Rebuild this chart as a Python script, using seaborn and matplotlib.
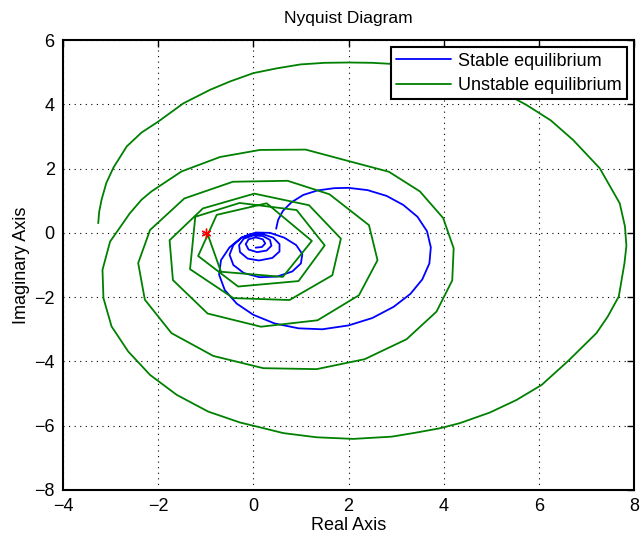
import numpy as np
import pandas as pd
import seaborn as sns
import matplotlib.pyplot as plt
from matplotlib.lines import Line2D

# Nyquist curve of the stable-equilibrium loop (real, imaginary)
stable_re = [0.48, 0.52, 0.62, 0.80, 1.05, 1.35, 1.70, 2.00, 2.40, 2.80, 3.15, 3.45,
             3.65, 3.73, 3.70, 3.55, 3.30, 2.95, 2.50, 2.00, 1.45, 0.95, 0.45, 0.00,
             -0.35, -0.60, -0.72, -0.68, -0.50, -0.25, 0.05, 0.35, 0.65, 0.90, 1.03,
             1.00, 0.82, 0.50, 0.13, -0.20, -0.42, -0.50, -0.42, -0.25, -0.05, 0.20,
             0.42, 0.55, 0.55, 0.40, 0.12, -0.12, -0.28, -0.30, -0.20, 0.00, 0.20,
             0.35, 0.38, 0.28, 0.08, -0.10, -0.16, -0.10, 0.05, 0.20, 0.25, 0.18, 0.05]
stable_im = [0.13, 0.40, 0.68, 0.95, 1.18, 1.32, 1.39, 1.40, 1.33, 1.15, 0.87, 0.50,
             0.05, -0.45, -0.95, -1.45, -1.90, -2.30, -2.65, -2.88, -3.00, -2.97, -2.82,
             -2.55, -2.20, -1.78, -1.30, -0.85, -0.45, -0.15, 0.01, 0.00, -0.15, -0.38,
             -0.66, -0.95, -1.20, -1.36, -1.38, -1.25, -1.00, -0.68, -0.38, -0.15, -0.03,
             -0.04, -0.15, -0.35, -0.58, -0.78, -0.86, -0.80, -0.60, -0.38, -0.18, -0.08,
             -0.10, -0.22, -0.40, -0.55, -0.60, -0.52, -0.35, -0.20, -0.14, -0.20, -0.33,
             -0.44, -0.46]

# Nyquist curve of the unstable-equilibrium loop (real, imaginary)
unstable_re = [-3.26, -3.24, -3.19, -3.09, -2.94, -2.66, -2.35, -2.00, -1.47, -0.91,
               -0.49, 0.00, 0.50, 0.99, 1.50, 2.00, 2.50, 2.86, 3.50, 4.00, 4.50, 5.00,
               5.40, 5.74, 6.25, 6.72, 7.28, 7.70, 7.81, 7.84, 7.80, 7.68, 7.45, 7.21,
               6.62, 6.06, 5.53, 4.97, 4.34, 3.92, 3.40, 2.91, 2.10, 1.33, 0.63, 0.14,
               -0.28, -0.95, -1.61, -2.17, -2.63, -2.98, -3.15, -3.17, -3.01, -2.84,
               -2.60, -2.35, -2.14, -1.51, -0.70, 0.14, 1.10, 2.01, 2.85, 3.50, 3.99,
               4.21, 4.18, 3.85, 3.22, 2.34, 1.33, 0.21, -0.84, -1.72, -2.28, -2.42,
               -2.17, -1.45, -0.43, 0.72, 1.60, 2.43, 2.61, 2.22, 1.35, 0.16, -0.96,
               -1.69, -1.76, -1.06, 0.02, 1.17, 1.84, 1.66, 0.76, -0.42, -1.33, -1.22,
               -0.29, 0.91, 1.50, 0.95, -0.32, -1.16, -0.77, 0.28, 1.23, 0.62, -0.68,
               -0.97]
unstable_im = [0.30, 0.65, 1.03, 1.55, 2.03, 2.69, 3.12, 3.46, 4.03, 4.45, 4.71, 4.97,
               5.12, 5.24, 5.29, 5.30, 5.29, 5.26, 5.15, 4.95, 4.75, 4.50, 4.25, 3.98,
               3.50, 2.89, 2.01, 0.92, 0.20, -0.40, -0.94, -1.98, -2.60, -3.12, -3.98,
               -4.73, -5.20, -5.59, -5.92, -6.08, -6.22, -6.34, -6.41, -6.36, -6.23,
               -6.05, -5.90, -5.56, -5.04, -4.42, -3.69, -2.91, -2.03, -1.15, -0.27,
               0.09, 0.60, 1.03, 1.29, 1.91, 2.36, 2.58, 2.59, 2.23, 1.90, 1.29, 0.46,
               -0.48, -1.48, -2.45, -3.31, -3.93, -4.24, -4.21, -3.83, -3.12, -2.08,
               -0.94, 0.09, 1.07, 1.59, 1.62, 1.20, 0.24, -0.85, -1.94, -2.72, -2.92,
               -2.51, -1.47, -0.23, 0.76, 1.22, 0.86, -0.18, -1.32, -2.09, -2.03, -1.13,
               0.50, 0.93, 0.71, -0.39, -1.50, -1.67, -0.72, 0.56, 0.92, -0.25, -1.37,
               -1.21, 0.00]

labels = ["Stable equilibrium", "Unstable equilibrium"]
colors = ["#0000ff", "#008000"]
critical_point = (-1.0, 0.0)

x_ticks = [-4, -2, 0, 2, 4, 6, 8]
y_ticks = [-8, -6, -4, -2, 0, 2, 4, 6]

df = pd.concat([
    pd.DataFrame({"re": stable_re, "im": stable_im, "system": labels[0]}),
    pd.DataFrame({"re": unstable_re, "im": unstable_im, "system": labels[1]}),
], ignore_index=True)

sns.set_theme(style="white")
plt.rcParams["font.family"] = ["Liberation Sans", "DejaVu Sans"]
plt.rcParams["axes.unicode_minus"] = True
plt.rcParams["text.color"] = "black"
plt.rcParams["axes.labelcolor"] = "black"
plt.rcParams["xtick.color"] = "black"
plt.rcParams["ytick.color"] = "black"

fig = plt.figure(figsize=(6.41, 5.34), dpi=100)
ax = fig.add_axes([63 / 641, 44 / 534, 571 / 641, 450 / 534])

sns.lineplot(data=df, x="re", y="im", hue="system", units="system", sort=False,
             estimator=None, palette=dict(zip(labels, colors)), linewidth=1.3,
             legend=False, ax=ax)

ax.plot(*critical_point, linestyle="none", marker=(6, 2, 0), color="red",
        markersize=7, markeredgewidth=1.0)

ax.set_xlim(-4, 8)
ax.set_ylim(-8, 6)
ax.set_xticks(x_ticks)
ax.set_yticks(y_ticks)
ax.grid(True, linestyle=(0, (1, 4)), color="black", linewidth=0.8)
ax.tick_params(direction="in", top=True, right=True, length=5, width=1,
               labelsize=13, colors="black", pad=6)
for s in ax.spines.values():
    s.set_color("black")
    s.set_linewidth(1.5)

ax.set_title("Nyquist Diagram", fontsize=12.5, pad=12, color="black")
ax.set_xlabel("Real Axis", fontsize=13, labelpad=1, color="black")
ax.set_ylabel("Imaginary Axis", fontsize=13, labelpad=3, color="black")

handles = [Line2D([], [], color=c, linewidth=1.3) for c in colors]
leg = ax.legend(handles, labels, loc="upper right", fontsize=13, frameon=True,
                fancybox=False, handlelength=3.0, borderaxespad=0.4,
                borderpad=0.3, labelspacing=0.4, handletextpad=0.4)
leg.get_frame().set_edgecolor("black")
leg.get_frame().set_linewidth(1.5)
leg.get_frame().set_alpha(1)
for t in leg.get_texts():
    t.set_color("black")

fig.savefig("out.png", dpi=100)
